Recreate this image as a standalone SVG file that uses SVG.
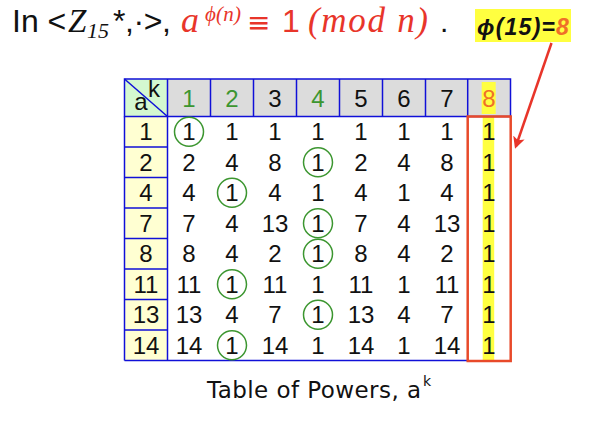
<svg xmlns="http://www.w3.org/2000/svg" width="616" height="423" viewBox="0 0 616 423">
<style>
.grid{stroke:#1010d8;stroke-width:1.5;fill:none}
.num{font-family:"Liberation Sans","DejaVu Sans",sans-serif;font-size:24px;text-anchor:middle;fill:#111}
.grn{fill:#3c9630}
.org{fill:#f07028}
.circ{fill:none;stroke:#3c9630;stroke-width:1.5}
.red{fill:#e8352a}
.ser{font-family:"Liberation Serif",serif;font-style:italic}
.sans{font-family:"Liberation Sans",sans-serif}
</style>
<defs>
<marker id="ah" markerWidth="12" markerHeight="12" refX="9" refY="6" orient="auto" markerUnits="userSpaceOnUse" viewBox="0 0 12 12">
<path d="M0,0 L12,6 L0,12 L3,6 Z" fill="#e8352a"/>
</marker>
</defs>
<rect width="616" height="423" fill="#fff"/>

<g id="title">
<text x="12" y="32" class="sans" font-size="32" fill="#111">In &lt;</text>
<text x="68" y="32" class="ser" font-size="33" fill="#111">Z</text>
<text x="87" y="38" class="ser" font-size="22" fill="#111">15</text>
<text x="113" y="32" class="sans" font-size="32" fill="#111" textLength="58">*,·&gt;,</text>
<text x="181" y="32" class="ser red" font-size="36">a</text>
<text x="205" y="21" class="ser red" font-size="21" textLength="36">ϕ(n)</text>
<text x="247" y="32" font-family="DejaVu Sans,sans-serif" font-size="28" class="red">≡</text>
<text x="282" y="32" class="sans red" font-size="32">1</text>
<text x="308" y="32" class="ser red" font-size="35" textLength="120">(mod n)</text>
<text x="440" y="32" class="sans" font-size="30" fill="#111">.</text>
</g>

<g id="phi-label">
<rect x="475" y="9" width="96" height="33" fill="#ffff40"/>
<text x="477" y="35" font-family="Liberation Sans,sans-serif" font-weight="bold" font-style="italic" font-size="23" fill="#111" textLength="78">ϕ(15)=</text>
<text x="556" y="35" font-family="Liberation Sans,sans-serif" font-weight="bold" font-style="italic" font-size="23" class="org">8</text>
</g>

<g id="table">
<rect x="124.5" y="79" width="386" height="37.5" fill="#dcdcdc"/>
<rect x="124.5" y="79" width="43" height="37.5" fill="#d4f8d0"/>
<rect x="124.5" y="116.5" width="43" height="244" fill="#ffffd2"/>
<rect x="482.7" y="117" width="11.5" height="243" fill="#ffff40"/>
<rect x="481.7" y="82" width="14" height="32" fill="#ffff40"/>
<g class="grid">
<rect x="124.5" y="79" width="386" height="37.5"/>
<line x1="124.5" y1="116.5" x2="124.5" y2="360.5"/>
<line x1="167.5" y1="116.5" x2="167.5" y2="360.5"/>
<line x1="124.5" y1="360.5" x2="467.7" y2="360.5"/>
<line x1="124.5" y1="79" x2="167.5" y2="116.5"/>
<path d="M167.5,79V116.5M210.5,79V116.5M253.5,79V116.5M296.5,79V116.5M339.5,79V116.5M382.5,79V116.5M425.5,79V116.5M467.7,79V116.5"/>
<path d="M124.5,147H167.5M124.5,177.5H167.5M124.5,208H167.5M124.5,238.5H167.5M124.5,269H167.5M124.5,299.5H167.5M124.5,330H167.5"/>
</g>
<text x="154" y="97" class="num" font-size="21">k</text>
<text x="141" y="110" class="num" font-size="21">a</text>
<g class="num">
<text x="189" y="106.5" class="grn">1</text>
<text x="232" y="106.5" class="grn">2</text>
<text x="275" y="106.5">3</text>
<text x="318" y="106.5" class="grn">4</text>
<text x="361" y="106.5">5</text>
<text x="404" y="106.5">6</text>
<text x="447" y="106.5">7</text>
<text x="489" y="106.5" class="org">8</text>
</g>
<g class="num">
<text x="146" y="140">1</text><text x="189" y="140">1</text><text x="232" y="140">1</text><text x="275" y="140">1</text><text x="318" y="140">1</text><text x="361" y="140">1</text><text x="404" y="140">1</text><text x="447" y="140">1</text><text x="489" y="140">1</text>
<text x="146" y="170.5">2</text><text x="189" y="170.5">2</text><text x="232" y="170.5">4</text><text x="275" y="170.5">8</text><text x="318" y="170.5">1</text><text x="361" y="170.5">2</text><text x="404" y="170.5">4</text><text x="447" y="170.5">8</text><text x="489" y="170.5">1</text>
<text x="146" y="201">4</text><text x="189" y="201">4</text><text x="232" y="201">1</text><text x="275" y="201">4</text><text x="318" y="201">1</text><text x="361" y="201">4</text><text x="404" y="201">1</text><text x="447" y="201">4</text><text x="489" y="201">1</text>
<text x="146" y="231.5">7</text><text x="189" y="231.5">7</text><text x="232" y="231.5">4</text><text x="275" y="231.5">13</text><text x="318" y="231.5">1</text><text x="361" y="231.5">7</text><text x="404" y="231.5">4</text><text x="447" y="231.5">13</text><text x="489" y="231.5">1</text>
<text x="146" y="262">8</text><text x="189" y="262">8</text><text x="232" y="262">4</text><text x="275" y="262">2</text><text x="318" y="262">1</text><text x="361" y="262">8</text><text x="404" y="262">4</text><text x="447" y="262">2</text><text x="489" y="262">1</text>
<text x="146" y="292.5">11</text><text x="189" y="292.5">11</text><text x="232" y="292.5">1</text><text x="275" y="292.5">11</text><text x="318" y="292.5">1</text><text x="361" y="292.5">11</text><text x="404" y="292.5">1</text><text x="447" y="292.5">11</text><text x="489" y="292.5">1</text>
<text x="146" y="323">13</text><text x="189" y="323">13</text><text x="232" y="323">4</text><text x="275" y="323">7</text><text x="318" y="323">1</text><text x="361" y="323">13</text><text x="404" y="323">4</text><text x="447" y="323">7</text><text x="489" y="323">1</text>
<text x="146" y="353.5">14</text><text x="189" y="353.5">14</text><text x="232" y="353.5">1</text><text x="275" y="353.5">14</text><text x="318" y="353.5">1</text><text x="361" y="353.5">14</text><text x="404" y="353.5">1</text><text x="447" y="353.5">14</text><text x="489" y="353.5">1</text>
</g>
<g class="circ">
<circle cx="189" cy="131.8" r="14.5"/>
<circle cx="318" cy="162.3" r="14.5"/>
<circle cx="232" cy="192.8" r="14.5"/>
<circle cx="318" cy="223.3" r="14.5"/>
<circle cx="318" cy="253.8" r="14.5"/>
<circle cx="232" cy="284.3" r="14.5"/>
<circle cx="318" cy="314.8" r="14.5"/>
<circle cx="232" cy="345.3" r="14.5"/>
</g>
<rect x="467.7" y="116.5" width="43" height="244.5" fill="none" stroke="#e84a2a" stroke-width="2.5"/>
</g>

<g id="connectors">
<line x1="551.5" y1="43" x2="516" y2="146" stroke="#e8352a" stroke-width="2.5" marker-end="url(#ah)"/>
</g>

<g id="caption">
<text x="207" y="398" font-family="DejaVu Sans,sans-serif" font-size="23" fill="#111" textLength="214">Table of Powers, a</text>
<text x="423" y="386" font-family="DejaVu Sans,sans-serif" font-size="14" fill="#111">k</text>
</g>
</svg>
